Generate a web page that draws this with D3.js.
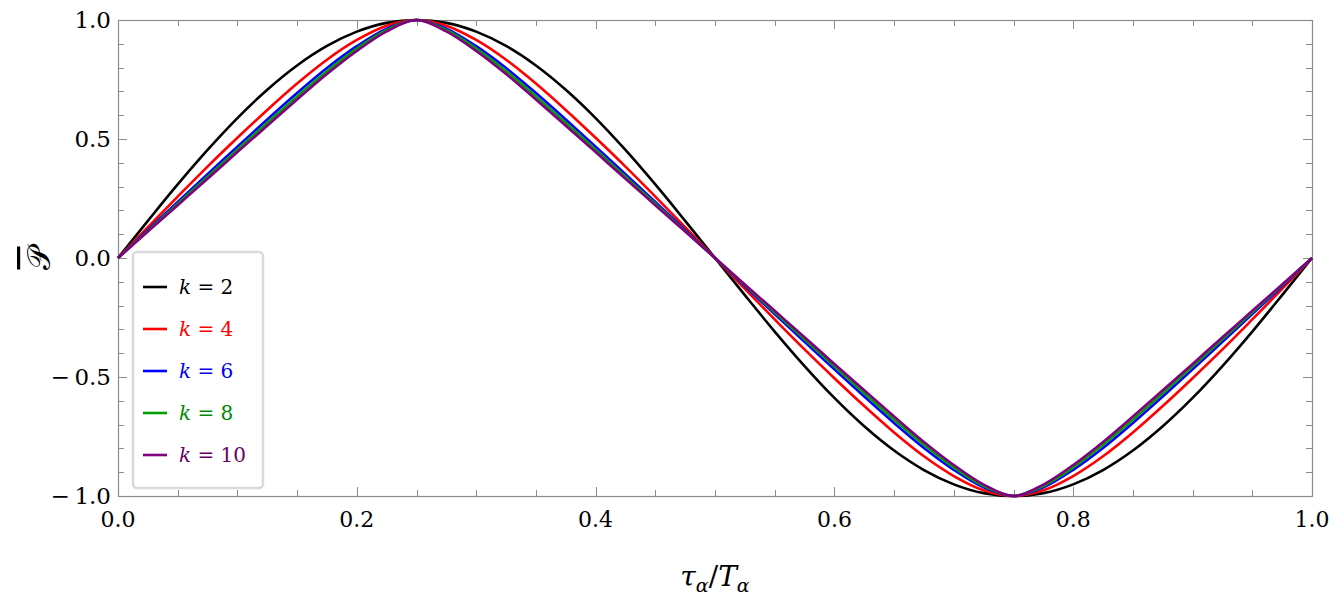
<!DOCTYPE html>
<html lang="en">
<head>
<meta charset="UTF-8">
<title>P bar vs tau/T</title>
<script src="https://d3js.org/d3.v7.min.js"></script>
<style>
  body { margin: 0; background: #fff; }
</style>
</head>
<body>
<div id="chart"></div>
<script>
// x samples (tau_alpha / T_alpha), step 0.025
const tau = d3.range(0, 41).map(i => +(i * 0.025).toFixed(3));

// values
const k2 = [0, .156, .309, .454, .588, .707, .809, .891, .951, .988, 1, .988, .951, .891, .809, .707, .588, .454, .309, .156,
  0, -.156, -.309, -.454, -.588, -.707, -.809, -.891, -.951, -.988, -1, -.988, -.951, -.891, -.809, -.707, -.588, -.454, -.309, -.156, 0];
const k4 = [0, .130, .258, .384, .505, .622, .733, .833, .916, .976, 1, .976, .916, .833, .733, .622, .505, .384, .258, .130,
  0, -.130, -.258, -.384, -.505, -.622, -.733, -.833, -.916, -.976, -1, -.976, -.916, -.833, -.733, -.622, -.505, -.384, -.258, -.130, 0];
const k6 = [0, .118, .236, .352, .468, .582, .693, .798, .890, .964, 1, .964, .890, .798, .693, .582, .468, .352, .236, .118,
  0, -.118, -.236, -.352, -.468, -.582, -.693, -.798, -.890, -.964, -1, -.964, -.890, -.798, -.693, -.582, -.468, -.352, -.236, -.118, 0];
const k8 = [0, .114, .228, .342, .455, .568, .679, .785, .880, .958, 1, .958, .880, .785, .679, .568, .455, .342, .228, .114,
  0, -.114, -.228, -.342, -.455, -.568, -.679, -.785, -.880, -.958, -1, -.958, -.880, -.785, -.679, -.568, -.455, -.342, -.228, -.114, 0];
const k10 = [0, .111, .222, .333, .445, .556, .666, .773, .870, .952, 1, .952, .870, .773, .666, .556, .445, .333, .222, .111,
  0, -.111, -.222, -.333, -.445, -.556, -.666, -.773, -.870, -.952, -1, -.952, -.870, -.773, -.666, -.556, -.445, -.333, -.222, -.111, 0];

const seriesNames = ["2", "4", "6", "8", "10"];
const seriesValues = [k2, k4, k6, k8, k10];
const lineColors = ["#000000", "#ff0000", "#0000ff", "#00a000", "#800080"];
const textColors = ["#000000", "#ff0000", "#0000ee", "#008800", "#660066"];

const xTicks = [0, 0.2, 0.4, 0.6, 0.8, 1.0];
const yTicks = [-1, -0.5, 0, 0.5, 1];

const W = 1329, H = 602;
const margin = { top: 20, right: 17, bottom: 106, left: 118 };
const width = W - margin.left - margin.right;
const height = H - margin.top - margin.bottom;
const serif = "DejaVu Serif";

const svg = d3.select("#chart").append("svg")
  .attr("width", W).attr("height", H)
  .style("font-family", serif);

const g = svg.append("g")
  .attr("transform", `translate(${margin.left},${margin.top})`);

const x = d3.scaleLinear().domain([0, 1]).range([0, width]);
const y = d3.scaleLinear().domain([-1, 1]).range([height, 0]);

const tickColor = "#8c8c8c";
const fmt = v => (v < 0 ? "\u2212\u2009" : "") + Math.abs(v).toFixed(1);

// minor/major ticks, pointing inwards on all four sides
const xMinor = d3.range(0, 21).map(i => i * 0.05);
const yMinor = d3.range(0, 21).map(i => -1 + i * 0.1);
const isMajorX = v => xTicks.some(t => Math.abs(t - v) < 1e-6);
const isMajorY = v => yTicks.some(t => Math.abs(t - v) < 1e-6);

const ticks = g.append("g").attr("stroke", tickColor).attr("stroke-width", 1);
xMinor.forEach(v => {
  const len = isMajorX(v) ? 9 : 6;
  const px = Math.round(x(v)) + 0.5;
  ticks.append("line").attr("x1", px).attr("x2", px).attr("y1", height).attr("y2", height - len);
  ticks.append("line").attr("x1", px).attr("x2", px).attr("y1", 0).attr("y2", len);
});
yMinor.forEach(v => {
  const len = isMajorY(v) ? 9 : 6;
  const py = Math.round(y(v)) + 0.5;
  ticks.append("line").attr("y1", py).attr("y2", py).attr("x1", 0).attr("x2", len);
  ticks.append("line").attr("y1", py).attr("y2", py).attr("x1", width).attr("x2", width - len);
});

// frame
g.append("rect")
  .attr("x", 0.5).attr("y", 0.5)
  .attr("width", width).attr("height", height)
  .attr("fill", "none").attr("stroke", tickColor).attr("stroke-width", 1.2);

// tick labels
g.selectAll(".xlab").data(xTicks).enter().append("text")
  .attr("x", d => x(d)).attr("y", height + 31)
  .attr("text-anchor", "middle")
  .style("font-family", serif)
  .attr("font-size", 22)
  .text(d => d.toFixed(1));

g.selectAll(".ylab").data(yTicks).enter().append("text")
  .attr("x", -7).attr("y", d => y(d) + 8)
  .attr("text-anchor", "end")
  .style("font-family", serif)
  .attr("font-size", 23)
  .text(d => fmt(d));

// curves
const line = d3.line()
  .x((d, i) => x(tau[i]))
  .y(d => y(d))
  .curve(d3.curveMonotoneX);

g.selectAll(".curve").data(seriesValues).enter().append("path")
  .attr("d", d => line(d))
  .attr("fill", "none")
  .attr("stroke", (d, i) => lineColors[i])
  .attr("stroke-width", 2.6)
  .attr("stroke-linejoin", "round");

// legend
const lg = svg.append("g").attr("transform", "translate(133,252)");
lg.append("rect")
  .attr("x", 0).attr("y", 0).attr("width", 130).attr("height", 236)
  .attr("rx", 4)
  .attr("fill", "#fff").attr("stroke", "#d9d9d9").attr("stroke-width", 2.5);

seriesNames.forEach((name, i) => {
  const ly = 35 + i * 42;
  lg.append("line")
    .attr("x1", 10).attr("x2", 34).attr("y1", ly).attr("y2", ly)
    .attr("stroke", lineColors[i]).attr("stroke-width", 2.6);
  const t = lg.append("text")
    .attr("x", 46).attr("y", ly + 7)
    .style("font-family", serif)
    .attr("font-size", 20)
    .attr("fill", textColors[i]);
  t.append("tspan").attr("font-style", "italic").text("k");
  t.append("tspan").text(" = " + name);
});

// axis titles
const xt = svg.append("text")
  .attr("x", margin.left + width / 2).attr("y", 586)
  .attr("text-anchor", "middle")
  .style("font-family", serif)
  .attr("font-size", 28);
xt.append("tspan").attr("font-style", "italic").text("τ");
xt.append("tspan").attr("font-style", "italic").attr("font-size", 19).attr("dy", 6).text("α");
xt.append("tspan").attr("dy", -6).text("/");
xt.append("tspan").attr("font-style", "italic").text("T");
xt.append("tspan").attr("font-style", "italic").attr("font-size", 19).attr("dy", 6).text("α");

svg.append("text")
  .attr("transform", `translate(50,${margin.top + height / 2}) rotate(-90)`)
  .attr("text-anchor", "middle")
  .attr("font-size", 32)
  .style("text-decoration", "overline")
  .text("\uD835\uDCAB");
</script>
</body>
</html>
